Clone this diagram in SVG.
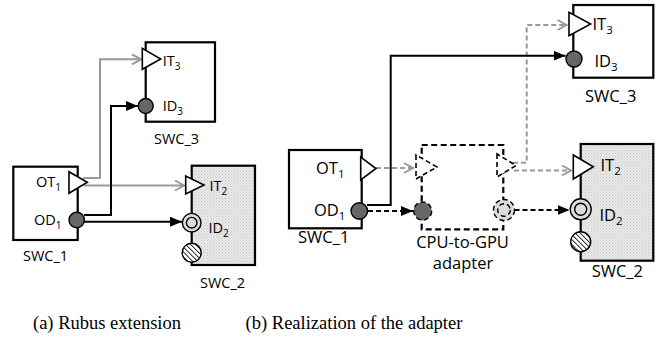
<svg xmlns="http://www.w3.org/2000/svg" width="663" height="339" viewBox="0 0 663 339">
<style>
.box{fill:#fff;stroke:#000;stroke-width:2.2}
.gbox{fill:url(#dots);stroke:#000;stroke-width:2.2}
.tri{fill:#fff;stroke:#000;stroke-width:1.6;stroke-linejoin:miter}
.dport{fill:#666;stroke:#000;stroke-width:1.4}
.oring{fill:#ddd;stroke:#000;stroke-width:1.4}
.hatch{fill:url(#hatch);stroke:#000;stroke-width:1.4}
.dash{stroke-dasharray:5 3}
.lbl{font-family:"Open Sans","Liberation Sans",sans-serif;font-size:14.5px;fill:#000}
.lb{font-family:"Open Sans","Liberation Sans",sans-serif;font-size:16.5px;fill:#000}
.sub{font-size:10px}
.subb{font-size:11.5px}
.cap{font-family:"Liberation Serif","Times New Roman",serif;font-size:18.5px;fill:#000}
.gw{fill:none;stroke:#999;stroke-width:2}
.bw{fill:none;stroke:#000;stroke-width:2}
</style>
<defs>
<pattern id="dots" width="3" height="3" patternUnits="userSpaceOnUse">
<rect width="3" height="3" fill="#e8e8e8"/>
<rect width="1" height="1" fill="#c8c8c8"/>
<rect x="1.5" y="1.5" width="1" height="1" fill="#d2d2d2"/>
</pattern>
<pattern id="hatch" width="3.5" height="3.5" patternUnits="userSpaceOnUse" patternTransform="rotate(-45)">
<rect width="3.5" height="3.5" fill="#fff"/>
<line x1="0" y1="0" x2="0" y2="3.5" stroke="#000" stroke-width="1.6"/>
</pattern>
<marker id="gArr" markerUnits="userSpaceOnUse" markerWidth="14" markerHeight="14" refX="10" refY="6" orient="auto">
<path d="M1,1 L10,6 L1,11" fill="none" stroke="#999" stroke-width="2"/>
</marker>
<marker id="bArr" markerUnits="userSpaceOnUse" markerWidth="14" markerHeight="12" refX="12" refY="5" orient="auto">
<path d="M0,0 L12,5 L0,10 Z" fill="#000"/>
</marker>
</defs>

<!-- Panel (a) -->
<g id="a-connectors">
<polyline class="gw" points="83,178 100,178 100,59.3 141,59.3" marker-end="url(#gArr)"/>
<polyline class="gw" points="84,185.5 184,185.5" marker-end="url(#gArr)"/>
<polyline class="bw" points="84,215 111,215 111,106 138,106" marker-end="url(#bArr)"/>
<polyline class="bw" points="84,221.7 182,221.7" marker-end="url(#bArr)"/>
</g>

<g id="a-swc3">
<rect class="box" x="145.7" y="42.3" width="69.3" height="79.4"/>
<polygon class="tri" points="142.3,48.3 142.3,69.3 160.7,59"/>
<circle class="dport" cx="145.7" cy="106" r="7.5"/>
<text class="lbl" x="162.7" y="66">IT<tspan class="sub" dy="4">3</tspan></text>
<text class="lbl" x="162.7" y="111">ID<tspan class="sub" dy="4">3</tspan></text>
<text class="lbl" x="154" y="144">SWC_3</text>
</g>

<g id="a-swc1">
<rect class="box" x="13.3" y="166.7" width="64.4" height="73.3"/>
<polygon class="tri" points="69,171.7 69,193.3 87.3,182.3"/>
<circle class="dport" cx="76.7" cy="220" r="7.7"/>
<text class="lbl" x="36" y="187">OT<tspan class="sub" dy="4">1</tspan></text>
<text class="lbl" x="34" y="225">OD<tspan class="sub" dy="4">1</tspan></text>
<text class="lbl" x="23" y="261">SWC_1</text>
</g>

<g id="a-swc2">
<rect class="gbox" x="191.7" y="165.7" width="63.3" height="99.3"/>
<polygon class="tri" points="185.7,176 185.7,194 204,185"/>
<circle class="oring" cx="191.7" cy="222.7" r="9.3"/>
<circle class="oring" cx="191.7" cy="222.7" r="5.3"/>
<circle class="hatch" cx="191.7" cy="252.7" r="9.5"/>
<text class="lbl" x="209.5" y="191">IT<tspan class="sub" dy="4">2</tspan></text>
<text class="lbl" x="208.5" y="233">ID<tspan class="sub" dy="4">2</tspan></text>
<text class="lbl" x="200" y="288">SWC_2</text>
</g>

<!-- Panel (b) -->
<g id="b-connectors">
<polyline class="gw dash" points="376,168 413,168" marker-end="url(#gArr)"/>
<polyline class="gw dash" points="513,162.7 526.7,162.7 526.7,25 566.5,25" marker-end="url(#gArr)"/>
<polyline class="gw dash" points="514,170.5 571,170.5" marker-end="url(#gArr)"/>
<polyline class="bw" points="367,205 390.7,205 390.7,55.7 565.5,55.7" marker-end="url(#bArr)"/>
<polyline class="bw dash" points="368,211 413,211" marker-end="url(#bArr)"/>
<polyline class="bw dash" points="514.5,210 569.5,210" marker-end="url(#bArr)"/>
</g>

<g id="b-swc3">
<rect class="box" x="573.3" y="5" width="80" height="72.7"/>
<polygon class="tri" points="569,12.3 569,35.7 590.7,24"/>
<circle class="dport" cx="574" cy="59" r="8"/>
<text class="lb" x="592.5" y="30">IT<tspan class="subb" dy="4">3</tspan></text>
<text class="lb" x="594.5" y="67">ID<tspan class="subb" dy="4">3</tspan></text>
<text class="lb" x="585" y="101.7">SWC_3</text>
</g>

<g id="b-swc1">
<rect class="box" x="289" y="150" width="72.7" height="78.3"/>
<polygon class="tri" points="360.7,157 360.7,180 376,168.5"/>
<circle class="dport" cx="359.3" cy="211" r="8.3"/>
<text class="lb" x="316" y="174">OT<tspan class="subb" dy="4">1</tspan></text>
<text class="lb" x="314" y="216">OD<tspan class="subb" dy="4">1</tspan></text>
<text class="lb" x="298" y="243">SWC_1</text>
</g>

<g id="b-adapter">
<rect x="421.7" y="145" width="81.6" height="84.3" fill="none" stroke="#000" stroke-width="2.2" stroke-dasharray="6 3.5"/>
<polygon class="tri dash" points="416,155 416,179 437,167"/>
<polygon class="tri dash" points="497,154 497,177 516,165.5"/>
<circle class="dport dash" cx="422.7" cy="211" r="9"/>
<circle class="oring dash" cx="504" cy="210" r="10.5"/>
<circle class="oring dash" cx="504" cy="210" r="6.3"/>
<text class="lb" x="462.5" y="247.5" text-anchor="middle">CPU-to-GPU</text>
<text class="lb" x="463" y="268.5" text-anchor="middle">adapter</text>
</g>

<g id="b-swc2">
<rect class="gbox" x="580.7" y="144" width="72.6" height="116.7"/>
<polygon class="tri" points="573.3,155 573.3,179 593.3,166.7"/>
<circle class="oring" cx="580.7" cy="209.3" r="10.5"/>
<circle class="oring" cx="580.7" cy="209.3" r="6"/>
<circle class="hatch" cx="580.7" cy="241.7" r="10"/>
<text class="lb" x="600.5" y="171">IT<tspan class="subb" dy="4">2</tspan></text>
<text class="lb" x="599.5" y="221">ID<tspan class="subb" dy="4">2</tspan></text>
<text class="lb" x="591.7" y="277">SWC_2</text>
</g>

<text class="cap" x="107" y="329" text-anchor="middle">(a) Rubus extension</text>
<text class="cap" x="354" y="329" text-anchor="middle">(b) Realization of the adapter</text>
</svg>
